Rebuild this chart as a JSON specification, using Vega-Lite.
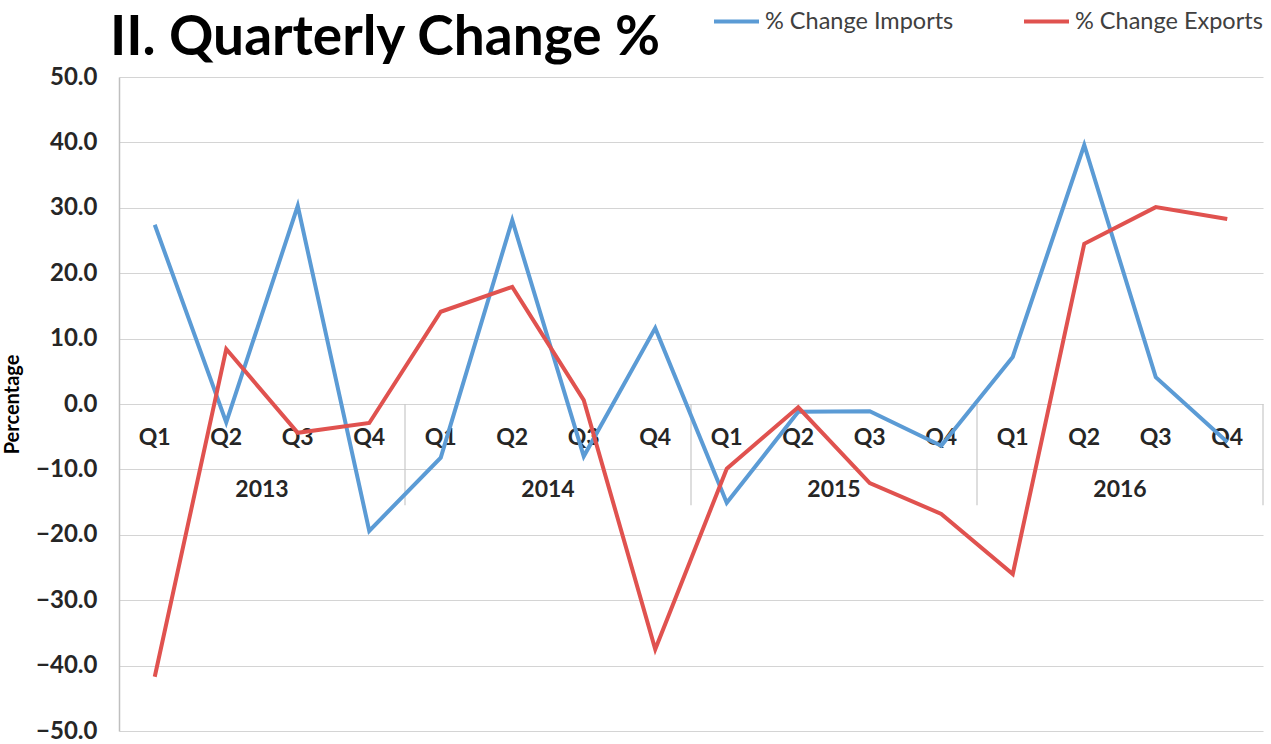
{
  "$schema": "https://vega.github.io/schema/vega-lite/v6.json",
  "width": 1144,
  "height": 654,
  "autosize": {"type": "none"},
  "padding": {"left": 119, "top": 77, "right": 8, "bottom": 13},
  "background": "white",
  "config": {"font": "Lato", "view": {"stroke": null}},
  "title": {"text": "II. Quarterly Change %", "anchor": "start", "frame": "group", "fontSize": 55, "fontWeight": "bold", "font": "Lato", "color": "#000000", "dx": -9, "offset": -70},
  "datasets": {
    "series": [
      {"year": "2013", "q": "Q1", "i": 0, "series": "% Change Imports", "value": 27.4},
      {"year": "2013", "q": "Q2", "i": 1, "series": "% Change Imports", "value": -2.8},
      {"year": "2013", "q": "Q3", "i": 2, "series": "% Change Imports", "value": 30.3},
      {"year": "2013", "q": "Q4", "i": 3, "series": "% Change Imports", "value": -19.4},
      {"year": "2014", "q": "Q1", "i": 4, "series": "% Change Imports", "value": -8.2},
      {"year": "2014", "q": "Q2", "i": 5, "series": "% Change Imports", "value": 28.1},
      {"year": "2014", "q": "Q3", "i": 6, "series": "% Change Imports", "value": -8.0},
      {"year": "2014", "q": "Q4", "i": 7, "series": "% Change Imports", "value": 11.6},
      {"year": "2015", "q": "Q1", "i": 8, "series": "% Change Imports", "value": -15.1},
      {"year": "2015", "q": "Q2", "i": 9, "series": "% Change Imports", "value": -1.2},
      {"year": "2015", "q": "Q3", "i": 10, "series": "% Change Imports", "value": -1.1},
      {"year": "2015", "q": "Q4", "i": 11, "series": "% Change Imports", "value": -6.4},
      {"year": "2016", "q": "Q1", "i": 12, "series": "% Change Imports", "value": 7.2},
      {"year": "2016", "q": "Q2", "i": 13, "series": "% Change Imports", "value": 39.6},
      {"year": "2016", "q": "Q3", "i": 14, "series": "% Change Imports", "value": 4.1},
      {"year": "2016", "q": "Q4", "i": 15, "series": "% Change Imports", "value": -5.8},
      {"year": "2013", "q": "Q1", "i": 0, "series": "% Change Exports", "value": -41.7},
      {"year": "2013", "q": "Q2", "i": 1, "series": "% Change Exports", "value": 8.4},
      {"year": "2013", "q": "Q3", "i": 2, "series": "% Change Exports", "value": -4.4},
      {"year": "2013", "q": "Q4", "i": 3, "series": "% Change Exports", "value": -2.9},
      {"year": "2014", "q": "Q1", "i": 4, "series": "% Change Exports", "value": 14.1},
      {"year": "2014", "q": "Q2", "i": 5, "series": "% Change Exports", "value": 17.9},
      {"year": "2014", "q": "Q3", "i": 6, "series": "% Change Exports", "value": 0.6},
      {"year": "2014", "q": "Q4", "i": 7, "series": "% Change Exports", "value": -37.5},
      {"year": "2015", "q": "Q1", "i": 8, "series": "% Change Exports", "value": -9.9},
      {"year": "2015", "q": "Q2", "i": 9, "series": "% Change Exports", "value": -0.5},
      {"year": "2015", "q": "Q3", "i": 10, "series": "% Change Exports", "value": -12.1},
      {"year": "2015", "q": "Q4", "i": 11, "series": "% Change Exports", "value": -16.8},
      {"year": "2016", "q": "Q1", "i": 12, "series": "% Change Exports", "value": -26.0},
      {"year": "2016", "q": "Q2", "i": 13, "series": "% Change Exports", "value": 24.5},
      {"year": "2016", "q": "Q3", "i": 14, "series": "% Change Exports", "value": 30.1},
      {"year": "2016", "q": "Q4", "i": 15, "series": "% Change Exports", "value": 28.3}
    ],
    "quarters": [
      {"year": "2013", "q": "Q1", "i": 0}, {"year": "2013", "q": "Q2", "i": 1}, {"year": "2013", "q": "Q3", "i": 2}, {"year": "2013", "q": "Q4", "i": 3},
      {"year": "2014", "q": "Q1", "i": 4}, {"year": "2014", "q": "Q2", "i": 5}, {"year": "2014", "q": "Q3", "i": 6}, {"year": "2014", "q": "Q4", "i": 7},
      {"year": "2015", "q": "Q1", "i": 8}, {"year": "2015", "q": "Q2", "i": 9}, {"year": "2015", "q": "Q3", "i": 10}, {"year": "2015", "q": "Q4", "i": 11},
      {"year": "2016", "q": "Q1", "i": 12}, {"year": "2016", "q": "Q2", "i": 13}, {"year": "2016", "q": "Q3", "i": 14}, {"year": "2016", "q": "Q4", "i": 15}
    ]
  },
  "layer": [
    {
      "data": {"name": "quarters"},
      "mark": {"type": "text", "fontSize": 23, "fontWeight": "bold", "color": "#262626", "dy": 34, "baseline": "middle", "align": "center"},
      "encoding": {
        "x": {"field": "i", "type": "quantitative", "scale": {"domain": [-0.5, 15.5], "nice": false, "zero": false}, "axis": null},
        "y": {"datum": 0, "type": "quantitative", "scale": {"domain": [-50, 50], "nice": false},
          "axis": {"values": [-50, -40, -30, -20, -10, 0, 10, 20, 30, 40, 50], "format": ".1f", "labelFontSize": 24, "labelFontWeight": "bold", "labelColor": "#262626", "labelPadding": 22, "ticks": false, "domainColor": "#bfbfbf", "domainWidth": 1.5, "grid": true, "gridColor": "#d4d4d4", "gridWidth": 1.2, "title": "Percentage", "titleFontSize": 20, "titleFontWeight": "bold", "titleColor": "#000000", "titlePadding": 13}},
        "text": {"field": "q"}
      }
    },
    {
      "data": {"name": "quarters"},
      "transform": [{"aggregate": [{"op": "mean", "field": "i", "as": "mid"}], "groupby": ["year"]}],
      "mark": {"type": "text", "fontSize": 23, "fontWeight": "bold", "color": "#262626", "dy": 86, "baseline": "middle", "align": "center"},
      "encoding": {
        "x": {"field": "mid", "type": "quantitative", "scale": {"domain": [-0.5, 15.5], "nice": false, "zero": false}, "axis": null},
        "y": {"datum": 0, "type": "quantitative"},
        "text": {"field": "year"}
      }
    },
    {
      "data": {"name": "quarters"},
      "transform": [{"filter": "datum.q == 'Q4'"}, {"calculate": "datum.i + 0.5", "as": "edge"}],
      "mark": {"type": "rule", "color": "#c8c8c8", "strokeWidth": 1.2},
      "encoding": {
        "x": {"field": "edge", "type": "quantitative", "scale": {"domain": [-0.5, 15.5], "nice": false, "zero": false}, "axis": null},
        "y": {"datum": 0, "type": "quantitative"},
        "y2": {"datum": -15.5}
      }
    },
    {
      "data": {"name": "series"},
      "mark": {"type": "line", "strokeWidth": 4, "strokeJoin": "miter"},
      "encoding": {
        "x": {"field": "i", "type": "quantitative", "scale": {"domain": [-0.5, 15.5], "nice": false, "zero": false}, "axis": null},
        "y": {"field": "value", "type": "quantitative"},
        "color": {"field": "series", "type": "nominal",
          "scale": {"domain": ["% Change Imports", "% Change Exports"], "range": ["#5B9BD5", "#E0524F"]},
          "legend": {"title": null, "orient": "none", "direction": "horizontal", "legendX": 593, "legendY": -80, "symbolType": "stroke", "symbolSize": 2025, "symbolStrokeWidth": 4, "labelFontSize": 23.5, "labelLimit": 400, "labelColor": "#404040", "labelOffset": 4, "columnPadding": 62, "labelFont": "Lato"}}
      }
    }
  ]
}
